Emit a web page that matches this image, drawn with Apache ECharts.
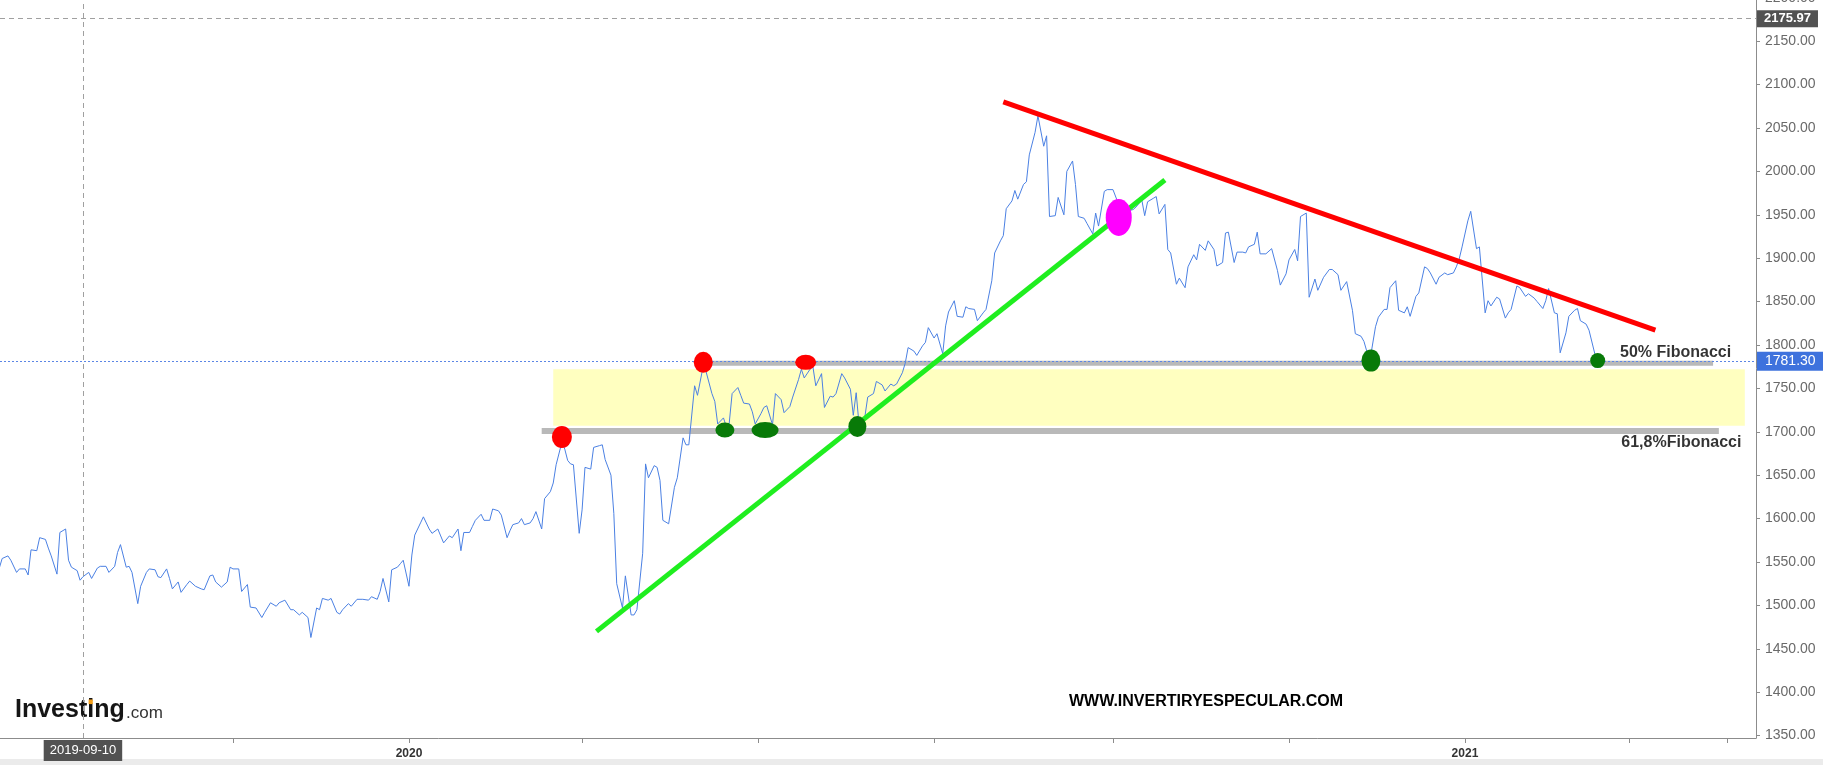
<!DOCTYPE html>
<html><head><meta charset="utf-8">
<script src="https://cdn.jsdelivr.net/npm/echarts@6/dist/echarts.min.js"></script>
<style>html,body{margin:0;padding:0;background:#fff}#c{width:1823px;height:765px}</style>
</head><body><div id="c"></div>
<script>
// ---------- DATA ----------
const priceDates = [
'2019-08-12','2019-08-13','2019-08-15','2019-08-16','2019-08-18','2019-08-19','2019-08-21','2019-08-22','2019-08-23','2019-08-25','2019-08-26','2019-08-28','2019-08-29','2019-08-30',
'2019-09-01','2019-09-02','2019-09-04','2019-09-05','2019-09-06','2019-09-08','2019-09-09','2019-09-10','2019-09-12','2019-09-13','2019-09-15','2019-09-16','2019-09-18','2019-09-19','2019-09-21','2019-09-22','2019-09-23','2019-09-25','2019-09-26','2019-09-27','2019-09-29','2019-09-30',
'2019-10-02','2019-10-03','2019-10-05','2019-10-06','2019-10-07','2019-10-09','2019-10-10','2019-10-11','2019-10-13','2019-10-14','2019-10-16','2019-10-17','2019-10-19','2019-10-21','2019-10-22','2019-10-24','2019-10-25','2019-10-26','2019-10-28','2019-10-30','2019-10-31',
'2019-11-01','2019-11-03','2019-11-04','2019-11-06','2019-11-07','2019-11-09','2019-11-11','2019-11-12','2019-11-14','2019-11-16','2019-11-17','2019-11-19','2019-11-21','2019-11-22','2019-11-24','2019-11-25','2019-11-27','2019-11-28','2019-11-30',
'2019-12-01','2019-12-02','2019-12-04','2019-12-05','2019-12-07','2019-12-08','2019-12-09','2019-12-11','2019-12-12','2019-12-14','2019-12-16','2019-12-18','2019-12-19','2019-12-21','2019-12-22','2019-12-23','2019-12-25','2019-12-26','2019-12-28','2019-12-29','2019-12-30',
'2020-01-01','2020-01-02','2020-01-03','2020-01-05','2020-01-06','2020-01-08','2020-01-09','2020-01-11','2020-01-12','2020-01-13','2020-01-15','2020-01-16','2020-01-18','2020-01-19','2020-01-20','2020-01-22','2020-01-23','2020-01-24','2020-01-26','2020-01-27','2020-01-29','2020-01-30',
'2020-02-01','2020-02-02','2020-02-04','2020-02-05','2020-02-06','2020-02-08','2020-02-09','2020-02-10','2020-02-12','2020-02-13','2020-02-14','2020-02-16','2020-02-17','2020-02-19','2020-02-20','2020-02-21','2020-02-23','2020-02-24','2020-02-25','2020-02-26','2020-02-27','2020-02-29',
'2020-03-01','2020-03-02','2020-03-04','2020-03-05','2020-03-07','2020-03-08','2020-03-09','2020-03-11','2020-03-12','2020-03-13','2020-03-15','2020-03-16','2020-03-18','2020-03-19','2020-03-20','2020-03-22','2020-03-23','2020-03-24','2020-03-26','2020-03-27','2020-03-28','2020-03-29','2020-03-31',
'2020-04-02','2020-04-03','2020-04-05','2020-04-06','2020-04-07','2020-04-09','2020-04-10','2020-04-12','2020-04-13','2020-04-15','2020-04-16','2020-04-17','2020-04-19','2020-04-20','2020-04-21','2020-04-22','2020-04-24','2020-04-25','2020-04-26','2020-04-28','2020-04-29','2020-04-30',
'2020-05-02','2020-05-03','2020-05-04','2020-05-06','2020-05-07','2020-05-09','2020-05-10','2020-05-12','2020-05-13','2020-05-15','2020-05-16','2020-05-17','2020-05-19','2020-05-20','2020-05-21','2020-05-23','2020-05-24','2020-05-26','2020-05-27','2020-05-28','2020-05-30','2020-05-31',
'2020-06-02','2020-06-03','2020-06-04','2020-06-05','2020-06-07','2020-06-08','2020-06-10','2020-06-11','2020-06-13','2020-06-14','2020-06-16','2020-06-17','2020-06-18','2020-06-20','2020-06-21','2020-06-22','2020-06-24','2020-06-25','2020-06-27','2020-06-28','2020-06-29',
'2020-07-01','2020-07-02','2020-07-04','2020-07-05','2020-07-06','2020-07-08','2020-07-09','2020-07-11','2020-07-12','2020-07-13','2020-07-15','2020-07-16','2020-07-18','2020-07-19','2020-07-21','2020-07-22','2020-07-24','2020-07-25','2020-07-26','2020-07-28','2020-07-29','2020-07-30',
'2020-08-01','2020-08-02','2020-08-03','2020-08-05','2020-08-06','2020-08-08','2020-08-09','2020-08-10','2020-08-12','2020-08-13','2020-08-15','2020-08-16','2020-08-18','2020-08-19','2020-08-20','2020-08-22','2020-08-23','2020-08-25','2020-08-26','2020-08-27','2020-08-29','2020-08-30',
'2020-09-01','2020-09-04','2020-09-08','2020-09-09','2020-09-11','2020-09-12','2020-09-13','2020-09-15','2020-09-16','2020-09-17','2020-09-19','2020-09-20','2020-09-21','2020-09-23','2020-09-24','2020-09-26','2020-09-27','2020-09-29','2020-09-30',
'2020-10-01','2020-10-03','2020-10-04','2020-10-06','2020-10-07','2020-10-09','2020-10-10','2020-10-11','2020-10-13','2020-10-14','2020-10-16','2020-10-17','2020-10-18','2020-10-20','2020-10-21','2020-10-22','2020-10-24','2020-10-26','2020-10-28','2020-10-29','2020-10-31',
'2020-11-01','2020-11-03','2020-11-04','2020-11-05','2020-11-07','2020-11-08','2020-11-10','2020-11-11','2020-11-13','2020-11-15','2020-11-16','2020-11-18','2020-11-19','2020-11-21','2020-11-23','2020-11-24','2020-11-26','2020-11-27','2020-11-29',
'2020-12-01','2020-12-02','2020-12-04','2020-12-05','2020-12-06','2020-12-08','2020-12-09','2020-12-11','2020-12-12','2020-12-13','2020-12-15','2020-12-16','2020-12-18','2020-12-19','2020-12-20','2020-12-22','2020-12-23','2020-12-25','2020-12-26','2020-12-28','2020-12-29','2020-12-30','2020-12-31',
'2021-01-02','2021-01-03','2021-01-05','2021-01-06','2021-01-08','2021-01-09','2021-01-10','2021-01-12','2021-01-13','2021-01-15','2021-01-16','2021-01-17','2021-01-19','2021-01-20','2021-01-22','2021-01-23','2021-01-25','2021-01-26','2021-01-28','2021-01-29','2021-01-30',
'2021-02-01','2021-02-02','2021-02-03','2021-02-05','2021-02-06','2021-02-08','2021-02-09','2021-02-10','2021-02-12','2021-02-13','2021-02-15','2021-02-16'
];
const priceValues = [
1543,1554,1557,1552,1538,1542,1542,1535,1564,1563,1578,1576,1566,1557,
1536,1584,1588,1552,1544,1540,1529,1533,1538,1531,1543,1545,1545,1538,1545,1561,1570,1544,1545,1538,1502,1522,
1538,1542,1541,1533,1532,1542,1531,1519,1527,1515,1524,1528,1522,1519,1518,1534,1535,1527,1521,1527,1544,
1542,1542,1516,1524,1498,1497,1486,1492,1503,1499,1503,1506,1495,1495,1489,1492,1486,1463,1497,
1495,1508,1506,1508,1492,1490,1495,1502,1499,1507,1507,1506,1510,1507,1516,1531,1504,1541,1544,1548,1552,
1522,1558,1581,1595,1602,1588,1583,1588,1580,1572,1580,1578,1588,1563,1584,1584,1591,1598,1605,1598,1598,1611,
1609,1604,1578,1586,1593,1595,1600,1593,1595,1600,1608,1588,1623,1631,1641,1662,1688,1680,1667,1663,1662,1583,
1610,1659,1657,1682,1684,1685,1668,1650,1606,1525,1497,1534,1489,1489,1495,1560,1663,1647,1661,1659,1644,1598,1594,
1636,1647,1693,1685,1685,1753,1742,1776,1769,1744,1735,1709,1716,1706,1710,1744,1751,1742,1733,1732,1723,1709,
1721,1728,1730,1708,1744,1737,1722,1729,1740,1760,1772,1762,1772,1775,1753,1767,1728,1741,1740,1744,1767,1762,
1749,1719,1745,1708,1717,1740,1744,1758,1754,1747,1755,1753,1755,1768,1779,1797,1793,1788,1799,1803,1820,
1808,1813,1790,1822,1838,1851,1833,1832,1844,1842,1841,1828,1837,1841,1874,1906,1920,1926,1957,1966,1978,1968,
1985,1988,2019,2045,2064,2029,2041,1948,1949,1970,1950,2000,2012,1985,1948,1946,1940,1928,1952,1937,1977,1979,
1979,1953,1956,1959,1967,1949,1965,1969,1971,1951,1962,1910,1906,1870,1877,1866,1890,1904,1898,
1916,1909,1920,1910,1891,1895,1929,1930,1895,1907,1907,1906,1913,1916,1930,1905,1905,1911,1886,1869,1882,
1898,1910,1897,1948,1952,1855,1876,1863,1878,1887,1887,1881,1863,1873,1840,1813,1810,1804,1781,
1821,1832,1841,1841,1866,1874,1840,1837,1844,1833,1856,1860,1890,1888,1883,1870,1878,1883,1881,1883,1890,1899,1913,
1943,1954,1911,1913,1837,1851,1845,1855,1853,1831,1837,1841,1868,1866,1856,1859,1854,1850,1842,1851,1865,
1837,1836,1791,1814,1833,1840,1842,1828,1824,1817,1790,1781.30
];
const lastPrice = 1781.30;
const crosshairDate = '2019-09-10';
const crosshairValue = 2175.97;

const resistanceDates = ['2020-07-25', '2021-03-08'];
const resistanceValues = [2080, 1817];
const supportDates = ['2020-03-06', '2020-09-19'];
const supportValues = [1470, 1990];
const fib50Dates = ['2020-04-12', '2021-03-28'];
const fib50Value = 1779;
const fib618Dates = ['2020-02-16', '2021-03-30'];
const fib618Value = 1701;
const zoneDates = ['2020-02-20', '2021-04-08'];
const zoneValues = [1707, 1772];
const fibLabelTexts = ['50% Fibonacci', '61,8%Fibonacci'];
const fibLabelDates = ['2021-03-15', '2021-03-17'];
const fibLabelValues = [1791, 1687];

const redMarkerDates = ['2020-02-23', '2020-04-12', '2020-05-17 12:00'];
const redMarkerValues = [1694, 1780, 1780];
const greenMarkerDates = ['2020-04-19 12:00', '2020-05-03 10:00', '2020-06-04 10:00', '2020-11-29 10:00', '2021-02-16'];
const greenMarkerValues = [1702, 1702, 1706, 1782, 1782];
const magentaMarkerDates = ['2020-09-03'];
const magentaMarkerValues = [1947];

const yTickValues = [1350,1400,1450,1500,1550,1600,1650,1700,1750,1800,1850,1900,1950,2000,2050,2100,2150,2200];
const xTickDates = ['2019-11-01','2020-01-01','2020-03-01','2020-05-01','2020-07-01','2020-09-01','2020-11-01','2021-01-01','2021-02-27','2021-04-02'];
const xLabelDates = ['2020-01-01','2021-01-01'];
const xRange = ['2019-08-12 06:00', '2021-04-11 21:00'];

// ---------- CHART ----------
const FONT = '"Liberation Sans", Arial, sans-serif';
const ELLIPSE = 'path://M0,50A50,50 0 1 1 100,50A50,50 0 1 1 0,50Z';
// date string -> UTC timestamp
const ts = s => {
  const [d, t] = s.split(' ');
  const [Y, M, D] = d.split('-').map(Number);
  const [h, m] = t ? t.split(':').map(Number) : [0, 0];
  return Date.UTC(Y, M - 1, D, h, m);
};
const pairs = (ds, vs) => ds.map((d, i) => [ts(d), Array.isArray(vs) ? vs[i] : vs]);
const markers = (ds, vs, sizes) => ds.map((d, i) => ({ value: [ts(d), vs[i]], symbolSize: sizes[i] }));

const redSizes = [[20, 22], [19, 21], [21, 15]];
const greenSizes = [[19, 15], [27, 16], [18, 21], [19, 22], [15, 15]];
const magentaSizes = [[26, 37]];

const chart = echarts.init(document.getElementById('c'), null, { renderer: 'canvas' });
chart.setOption({
  animation: false,
  backgroundColor: '#ffffff',
  grid: { left: 0, right: 67, top: -2.2, bottom: 27, containLabel: false, outerBoundsMode: 'none' },
  xAxis: {
    type: 'value',
    min: ts(xRange[0]),
    max: ts(xRange[1]),
    axisLine: { show: true, onZero: false, lineStyle: { color: '#8c8c8c', width: 1 } },
    axisTick: { show: true, customValues: xTickDates.map(ts), length: 5, lineStyle: { color: '#8c8c8c' } },
    axisLabel: {
      customValues: xLabelDates.map(ts),
      formatter: v => String(new Date(v).getUTCFullYear()),
      color: '#333', fontSize: 12, fontWeight: 'bold', fontFamily: FONT, margin: 10
    },
    splitLine: { show: false }
  },
  yAxis: {
    type: 'value',
    position: 'right',
    min: 1347.2,
    max: 2200,
    axisLine: { show: true, lineStyle: { color: '#8c8c8c', width: 1 } },
    axisTick: { show: true, customValues: yTickValues, length: 4, lineStyle: { color: '#8c8c8c' } },
    axisLabel: {
      customValues: yTickValues,
      formatter: v => Number(v).toFixed(2),
      color: '#6a6a6a', fontSize: 14, fontFamily: FONT, margin: 9
    },
    splitLine: { show: false }
  },
  series: [
    {
      name: 'zone', type: 'line', data: [], z: 1, silent: true,
      markArea: {
        silent: true,
        itemStyle: { color: '#ffffc0' },
        data: [[{ xAxis: ts(zoneDates[0]), yAxis: zoneValues[1] }, { xAxis: ts(zoneDates[1]), yAxis: zoneValues[0] }]]
      }
    },
    {
      name: 'fib50', type: 'line', data: pairs(fib50Dates, fib50Value), z: 2, silent: true,
      symbol: 'none', lineStyle: { color: '#b9b9b9', width: 5, cap: 'butt' }
    },
    {
      name: 'fib618', type: 'line', data: pairs(fib618Dates, fib618Value), z: 2, silent: true,
      symbol: 'none', lineStyle: { color: '#b9b9b9', width: 6, cap: 'butt' }
    },
    {
      name: 'price', type: 'line', data: pairs(priceDates, priceValues), z: 4, silent: true,
      symbol: 'none', showSymbol: false,
      lineStyle: { color: '#4b80e3', width: 1 },
      markLine: {
        silent: true, symbol: 'none', animation: false,
        data: [
          {
            yAxis: lastPrice,
            lineStyle: { color: '#5b86e5', type: [2, 2], width: 1 },
            label: { position: 'end', formatter: lastPrice.toFixed(2), backgroundColor: '#3e72dd', color: '#fff',
                     fontSize: 14, fontFamily: FONT, padding: [3, 8, 2, 8], distance: 1 }
          },
          {
            xAxis: ts(crosshairDate),
            lineStyle: { color: '#a0a0a0', type: [5, 4], width: 1 },
            label: { position: 'start', formatter: crosshairDate, backgroundColor: '#525252', color: '#fff',
                     fontSize: 13, fontFamily: FONT, padding: [4, 6, 4, 6], distance: 2 }
          },
          {
            yAxis: crosshairValue,
            lineStyle: { color: '#a0a0a0', type: [5, 4], width: 1 },
            label: { position: 'end', formatter: crosshairValue.toFixed(2), backgroundColor: '#525252', color: '#fff',
                     fontSize: 13, fontWeight: 'bold', fontFamily: FONT, padding: [2, 7, 2, 7], distance: 1 }
          }
        ]
      }
    },
    {
      name: 'resistance', type: 'line', data: pairs(resistanceDates, resistanceValues), z: 5, silent: true,
      symbol: 'none', lineStyle: { color: '#ff0000', width: 5, cap: 'butt' }
    },
    {
      name: 'support', type: 'line', data: pairs(supportDates, supportValues), z: 5, silent: true,
      symbol: 'none', lineStyle: { color: '#1fee1f', width: 5, cap: 'butt' }
    },
    {
      name: 'redMarkers', type: 'scatter', z: 6, silent: true, symbol: ELLIPSE,
      itemStyle: { color: '#ff0000', opacity: 1 },
      data: markers(redMarkerDates, redMarkerValues, redSizes)
    },
    {
      name: 'greenMarkers', type: 'scatter', z: 6, silent: true, symbol: ELLIPSE,
      itemStyle: { color: '#087a08', opacity: 1 },
      data: markers(greenMarkerDates, greenMarkerValues, greenSizes)
    },
    {
      name: 'magentaMarkers', type: 'scatter', z: 6, silent: true, symbol: ELLIPSE,
      itemStyle: { color: '#ff00ff', opacity: 1 },
      data: markers(magentaMarkerDates, magentaMarkerValues, magentaSizes)
    },
    {
      name: 'fibLabels', type: 'scatter', z: 7, silent: true, symbolSize: 1,
      itemStyle: { color: 'rgba(0,0,0,0)' },
      label: { show: true, position: 'inside', formatter: p => fibLabelTexts[p.dataIndex],
               color: '#000', fontSize: 16, fontWeight: 'bold', fontFamily: FONT },
      data: pairs(fibLabelDates, fibLabelValues)
    }
  ],
  graphic: [
    { type: 'rect', silent: true, shape: { x: 0, y: 759, width: 1823, height: 6 }, style: { fill: '#ebebeb' } },
    { type: 'text', silent: true, x: 15, y: 710, style: { text: 'Investing', fontSize: 25, fontWeight: 'bold', fontFamily: FONT, fill: '#151515', verticalAlign: 'middle' } },
    { type: 'rect', silent: true, shape: { x: 88.6, y: 699.5, width: 4.2, height: 4.6 }, style: { fill: '#f5a01a' } },
    { type: 'text', silent: true, x: 126, y: 713, style: { text: '.com', fontSize: 17, fontFamily: FONT, fill: '#333', verticalAlign: 'middle' } },
    { type: 'text', silent: true, x: 1206, y: 702, style: { text: 'WWW.INVERTIRYESPECULAR.COM', fontSize: 16, fontWeight: 'bold', fontFamily: FONT, fill: '#000', align: 'center', verticalAlign: 'middle' } }
  ]
});
</script>
</body></html>
